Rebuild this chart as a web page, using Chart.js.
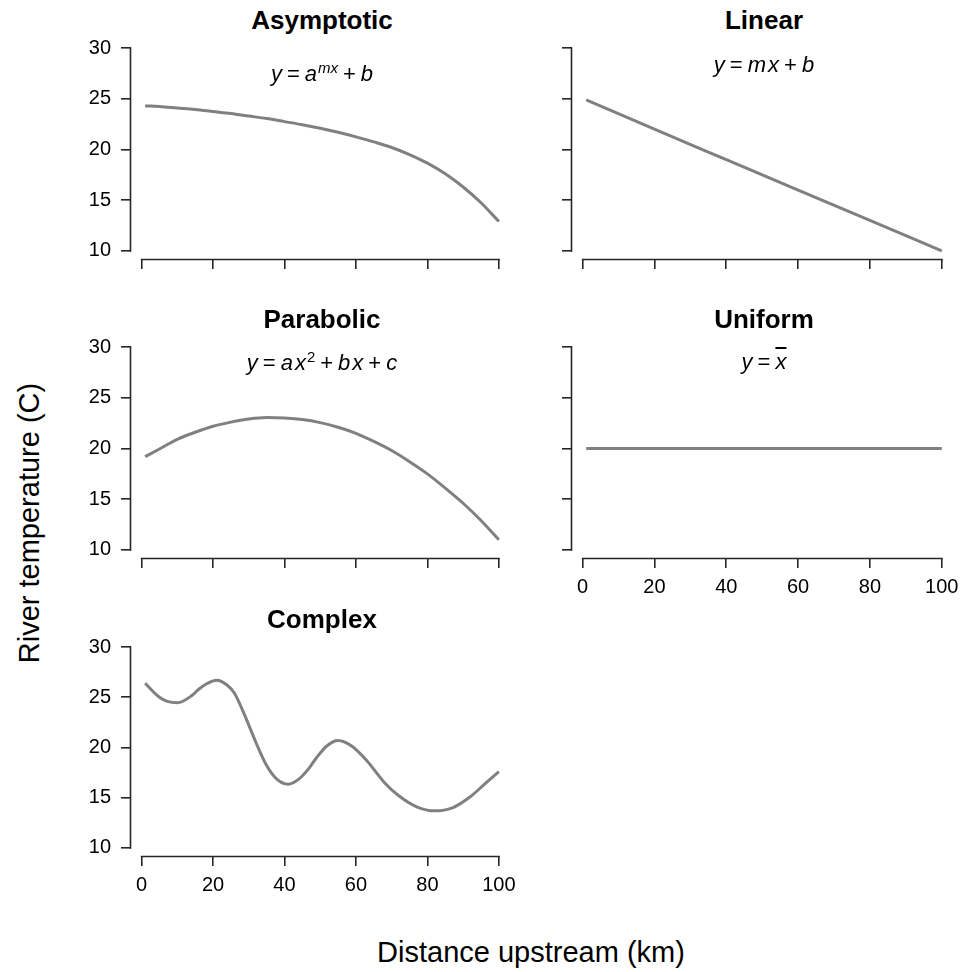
<!DOCTYPE html>
<html>
<head>
<meta charset="utf-8">
<script src="https://cdn.jsdelivr.net/npm/chart.js@4.4.1/dist/chart.umd.min.js"></script>
<style>
  body { margin: 0; background: #fff; }
  #page { position: relative; width: 963px; height: 972px; background: #fff; overflow: hidden;
          font-family: "Liberation Sans", Arial, Helvetica, sans-serif; color: #000; }
  #page canvas { position: absolute; }
  .title { position: absolute; font-weight: bold; font-size: 26px; line-height: 26px;
           white-space: nowrap; transform: translateX(-50%); }
  .formula { position: absolute; font-size: 22px; line-height: 22px; white-space: nowrap;
             transform: translateX(-50%); }
  .formula .op { margin: 0 5px; }
  .formula .gap { margin-left: 2px; }
  .formula sup { font-size: 15px; line-height: 0; vertical-align: 8px; margin-left: 1px; }
  .formula .bar { text-decoration: overline; }
  .axis-title { position: absolute; font-size: 29px; line-height: 29px; white-space: nowrap; }
</style>
</head>
<body>
<div id="page"></div>
<script>
// axis ticks shared by every panel
const xTicks = [0, 20, 40, 60, 80, 100];
const yTicks = [10, 15, 20, 25, 30];

const asymptoticX = [1, 5, 10, 15, 20, 25, 30, 35, 40, 45, 50, 55, 60, 65, 70, 75, 80, 85, 90, 95, 100];
const asymptoticY = [24.3, 24.25, 24.1, 23.95, 23.75, 23.55, 23.3, 23.05, 22.75, 22.45, 22.1, 21.7, 21.25,
                     20.75, 20.2, 19.5, 18.65, 17.6, 16.3, 14.75, 12.9];

const linearX = [1, 20, 40, 60, 80, 100];
const linearY = [24.9, 22.0, 19.0, 16.0, 13.0, 10.0];

const parabolicX = [1, 5, 10, 15, 20, 25, 30, 35, 40, 45, 50, 55, 60, 65, 70, 75, 80, 85, 90, 95, 100];
const parabolicY = [19.2, 19.95, 20.9, 21.6, 22.2, 22.6, 22.9, 23.05, 23.0, 22.85, 22.55, 22.1, 21.5,
                    20.7, 19.8, 18.7, 17.5, 16.1, 14.6, 12.9, 11.0];

const uniformX = [1, 100];
const uniformY = [20, 20];

const complexX = [1, 3, 5, 7, 10, 14, 16, 18, 21, 24, 26, 29, 32, 35, 38, 41, 44, 47, 49, 52, 55,
                  59, 63, 68, 72, 77, 82, 87, 92, 96, 100];
const complexY = [26.4, 25.65, 25.0, 24.62, 24.45, 25.15, 25.8, 26.3, 26.7, 26.2, 25.4, 23.1, 20.5, 18.2, 16.8,
                  16.35, 16.85, 18.0, 19.0, 20.2, 20.7, 20.1, 18.7, 16.5, 15.2, 14.1, 13.7, 14.0, 15.1, 16.35, 17.6];

// plot regions (R style: data range padded by 4%)
const COLS = [{ left: 131, width: 382 }, { left: 572, width: 384 }];
const ROWS = [{ top: 40, height: 219 }, { top: 339, height: 219 }, { top: 639, height: 217 }];
const X_RANGE = [-2.96, 103.96];
const Y_RANGE = [9.2, 30.8];
const AXIS_W = 70;
const AXIS_H = 50;
const RIGHT_PAD = 7;
const LINE_COLOR = "#808080";
const AXIS_COLOR = "#262626";

const panels = [
    { title: "Asymptotic", xs: asymptoticX, ys: asymptoticY, col: 0, row: 0, xLabels: false, yLabels: true,
      formula: '<i>y</i><span class="op">=</span><i>a</i><sup><i>mx</i></sup><span class="op">+</span><i>b</i>', formulaBase: 82 },
    { title: "Linear", xs: linearX, ys: linearY, col: 1, row: 0, xLabels: false, yLabels: false,
      formula: '<i>y</i><span class="op">=</span><i>m</i><i class="gap">x</i><span class="op">+</span><i>b</i>', formulaBase: 73 },
    { title: "Parabolic", xs: parabolicX, ys: parabolicY, col: 0, row: 1, xLabels: false, yLabels: true,
      formula: '<i>y</i><span class="op">=</span><i>a</i><i class="gap">x</i><sup>2</sup><span class="op">+</span><i>b</i><i class="gap">x</i><span class="op">+</span><i>c</i>', formulaBase: 371 },
    { title: "Uniform", xs: uniformX, ys: uniformY, col: 1, row: 1, xLabels: true, yLabels: false,
      formula: '<i>y</i><span class="op">=</span><i class="bar">x</i>', formulaBase: 370 },
    { title: "Complex", xs: complexX, ys: complexY, col: 0, row: 2, xLabels: true, yLabels: true,
      formula: null }
];

Chart.defaults.font.family = '"Liberation Sans", Arial, Helvetica, sans-serif';
Chart.defaults.color = "#000";

// R draws the axis line only between the first and last tick
const rAxes = {
    id: "rAxes",
    afterDraw(chart) {
        const ctx = chart.ctx;
        const xs = chart.scales.x, ys = chart.scales.y, a = chart.chartArea;
        ctx.save();
        ctx.strokeStyle = AXIS_COLOR;
        ctx.lineWidth = 1.6;
        ctx.beginPath();
        ctx.moveTo(xs.getPixelForValue(xTicks[0]) - 0.8, a.bottom + 0.5);
        ctx.lineTo(xs.getPixelForValue(xTicks[xTicks.length - 1]) + 0.8, a.bottom + 0.5);
        ctx.moveTo(a.left - 0.5, ys.getPixelForValue(yTicks[0]) + 0.8);
        ctx.lineTo(a.left - 0.5, ys.getPixelForValue(yTicks[yTicks.length - 1]) - 0.8);
        ctx.stroke();
        ctx.restore();
    }
};

const page = document.getElementById("page");

function addText(cls, html, left, top) {
    const div = document.createElement("div");
    div.className = cls;
    div.innerHTML = html;
    div.style.left = left + "px";
    div.style.top = top + "px";
    page.appendChild(div);
    return div;
}

function makePanel(p) {
    const col = COLS[p.col], row = ROWS[p.row];
    const canvas = document.createElement("canvas");
    canvas.width = col.width + AXIS_W + RIGHT_PAD;
    canvas.height = row.height + AXIS_H;
    canvas.style.left = (col.left - AXIS_W) + "px";
    canvas.style.top = row.top + "px";
    page.appendChild(canvas);

    new Chart(canvas, {
        type: "line",
        data: {
            datasets: [{
                data: p.xs.map((x, i) => ({ x: x, y: p.ys[i] })),
                borderColor: LINE_COLOR,
                borderWidth: 3,
                pointRadius: 0,
                cubicInterpolationMode: "monotone",
                fill: false
            }]
        },
        options: {
            responsive: false,
            animation: false,
            devicePixelRatio: 1,
            layout: { padding: { left: 0, top: 0, bottom: 0, right: RIGHT_PAD } },
            plugins: { legend: { display: false }, tooltip: { enabled: false } },
            scales: {
                x: {
                    type: "linear",
                    min: X_RANGE[0],
                    max: X_RANGE[1],
                    afterBuildTicks: s => { s.ticks = xTicks.map(v => ({ value: v })); },
                    afterFit: s => { s.height = AXIS_H; s.paddingLeft = 0; s.paddingRight = 0; },
                    border: { display: false },
                    grid: { drawOnChartArea: false, drawTicks: true, tickLength: 10, color: AXIS_COLOR, lineWidth: 1.6 },
                    ticks: {
                        autoSkip: false, maxRotation: 0, padding: 7,
                        font: { size: 20 },
                        callback: v => p.xLabels ? String(v) : ""
                    }
                },
                y: {
                    type: "linear",
                    min: Y_RANGE[0],
                    max: Y_RANGE[1],
                    afterBuildTicks: s => { s.ticks = yTicks.map(v => ({ value: v })); },
                    afterFit: s => { s.width = AXIS_W; s.paddingTop = 0; s.paddingBottom = 0; },
                    border: { display: false },
                    grid: { drawOnChartArea: false, drawTicks: true, tickLength: 10, color: AXIS_COLOR, lineWidth: 1.6 },
                    ticks: {
                        autoSkip: false, padding: 10,
                        font: { size: 20 },
                        callback: v => p.yLabels ? String(v) : ""
                    }
                }
            }
        },
        plugins: [rAxes]
    });

    const cx = col.left + col.width / 2;
    // baseline sits ~0.85em below the top of a 1em line box
    addText("title", p.title, cx, row.top - 10.5 - 0.8465 * 26);
    if (p.formula) {
        addText("formula", p.formula, cx, p.formulaBase - 0.8465 * 22);
    }
}

panels.forEach(makePanel);

addText("axis-title", "Distance upstream (km)", 531, 963 - 0.8465 * 29).style.transform = "translateX(-50%)";
const yTitle = addText("axis-title", "River temperature (C)", 40 - 0.8465 * 29, 523);
yTitle.style.transformOrigin = "0 0";
yTitle.style.transform = "rotate(-90deg) translateX(-50%)";
</script>
</body>
</html>
